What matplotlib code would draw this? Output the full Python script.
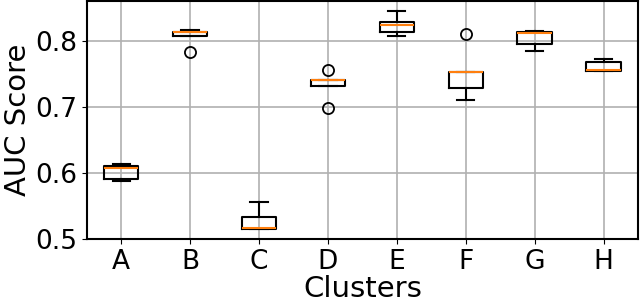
import matplotlib
matplotlib.use("Agg")
import matplotlib.pyplot as plt

clusters = ["A", "B", "C", "D", "E", "F", "G", "H"]
auc_A = [0.588, 0.591, 0.6085, 0.6115, 0.614]
auc_B = [0.7843, 0.808, 0.8136, 0.8146, 0.8176]
auc_C = [0.515, 0.516, 0.517, 0.5338, 0.556]
auc_D = [0.699, 0.7318, 0.741, 0.741, 0.7565]
auc_E = [0.8085, 0.8136, 0.8247, 0.8288, 0.846]
auc_F = [0.711, 0.7297, 0.7535, 0.7535, 0.8115]
auc_G = [0.7858, 0.796, 0.813, 0.814, 0.8156]
auc_H = [0.7545, 0.7545, 0.756, 0.768, 0.7736]
yticks = [0.5, 0.6, 0.7, 0.8]

data = [auc_A, auc_B, auc_C, auc_D, auc_E, auc_F, auc_G, auc_H]

fig = plt.figure(figsize=(6.4, 3.05), dpi=100)
ax = fig.add_axes([0.1355, 0.2154, 0.8615, 0.7813])
ax.boxplot(data, widths=0.5,
           boxprops=dict(linewidth=1.5),
           whiskerprops=dict(linewidth=1.5),
           capprops=dict(linewidth=1.5),
           medianprops=dict(linewidth=1.5, color="#ff7f0e"),
           flierprops=dict(markersize=8, markeredgewidth=1.3))
ax.set_xticks(range(1, len(clusters) + 1))
ax.set_xticklabels(clusters)
ax.set_yticks(yticks)
ax.set_xlim(0.5, 8.5)
ax.set_ylim(0.5, 0.861)
ax.grid(True, color="#b0b0b0", linewidth=1.2)
ax.set_axisbelow(True)
ax.tick_params(labelsize=19)
ax.set_xlabel("Clusters", fontsize=21, labelpad=0)
ax.set_ylabel("AUC Score", fontsize=21, labelpad=2)
for s in ax.spines.values():
    s.set_linewidth(1.5)
fig.savefig("out.png", dpi=100)
